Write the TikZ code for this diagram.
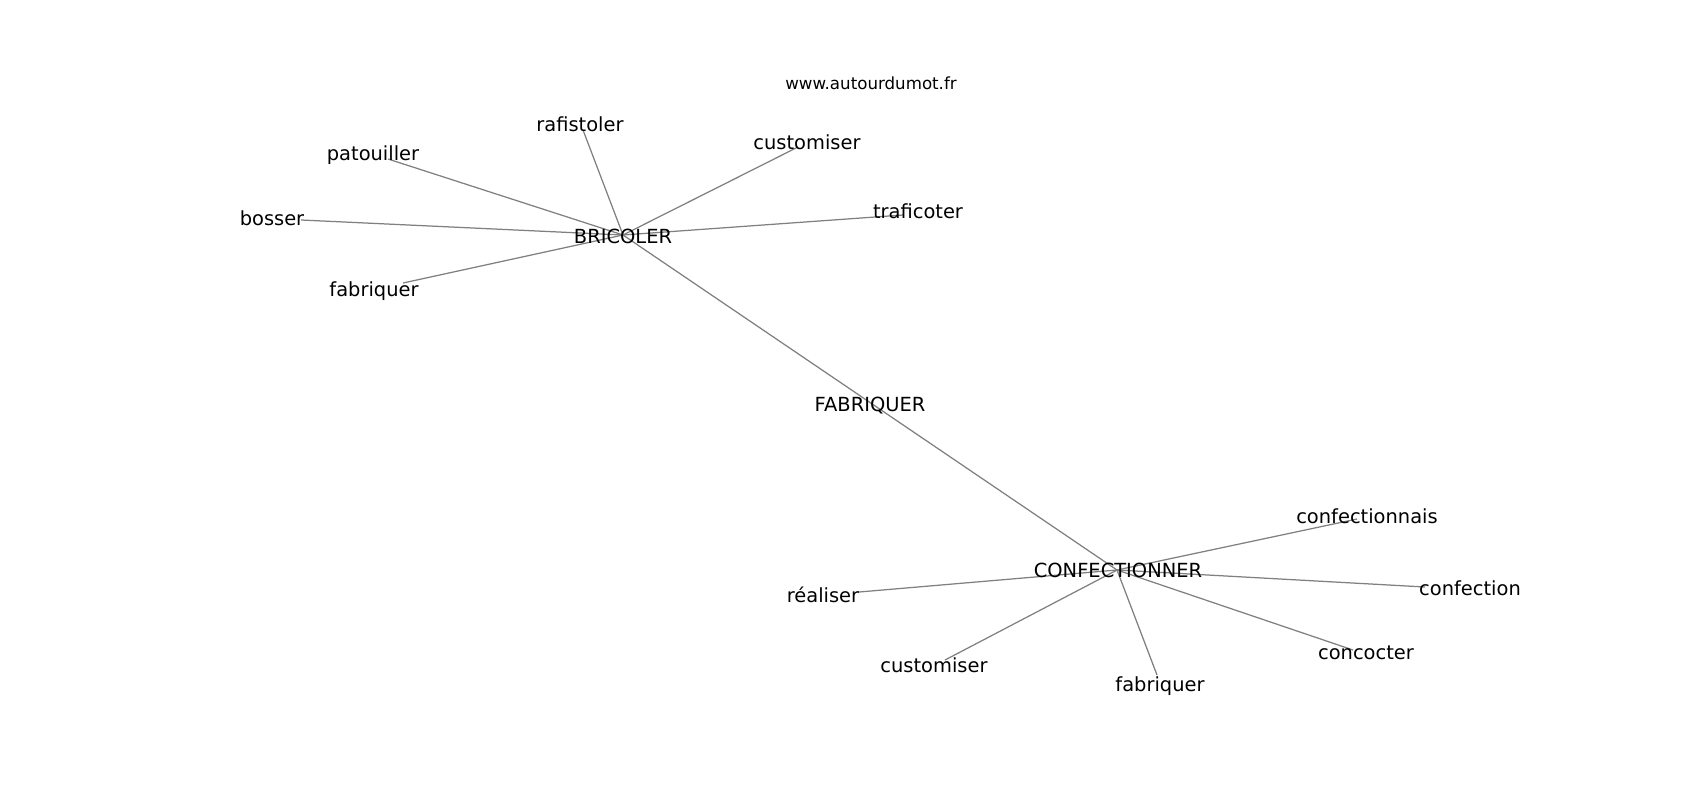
\documentclass[tikz,border=0pt]{standalone}
\usepackage{fontspec}
\setmainfont{DejaVu Sans}
\usetikzlibrary{positioning}
\definecolor{edgegray}{RGB}{128,128,128}

\begin{document}
\begin{tikzpicture}[x=0.72pt, y=-0.72pt]
\tikzstyle{word} = [anchor=base, inner sep=0pt, text=black,
    font=\fontsize{14}{16}\selectfont]
\tikzstyle{site} = [word, font=\fontsize{12}{14}\selectfont]
\tikzstyle{line} = [draw, edgegray, line width=0.9pt]
    \useasboundingbox (0,0) rectangle (1700,800);

    % Place vertices
    \coordinate (bricoler) at (623,235);
    \coordinate (confectionner) at (1117,570);
    \coordinate (rafistoler) at (583,130);
    \coordinate (patouiller) at (388,159);
    \coordinate (bosser) at (301,220);
    \coordinate (fabriquer1) at (403,283);
    \coordinate (customiser1) at (798,147);
    \coordinate (traficoter) at (903,215);
    \coordinate (realiser) at (859,592);
    \coordinate (customiser2) at (945,660);
    \coordinate (fabriquer2) at (1157,675);
    \coordinate (confectionnais) at (1357,519);
    \coordinate (confection) at (1425,587);
    \coordinate (concocter) at (1353,650);

%paths
    \path [line] (bricoler) -- (confectionner);
    \path [line] (bricoler) -- (rafistoler);
    \path [line] (bricoler) -- (patouiller);
    \path [line] (bricoler) -- (bosser);
    \path [line] (bricoler) -- (fabriquer1);
    \path [line] (bricoler) -- (customiser1);
    \path [line] (bricoler) -- (traficoter);
    \path [line] (confectionner) -- (realiser);
    \path [line] (confectionner) -- (customiser2);
    \path [line] (confectionner) -- (fabriquer2);
    \path [line] (confectionner) -- (confectionnais);
    \path [line] (confectionner) -- (confection);
    \path [line] (confectionner) -- (concocter);

    % Place labels
    \node [site] (site) at (871,89) {www.autourdumot.fr};
    \node [word] (fabriquer-title) at (870,411) {FABRIQUER};
    \node [word] (bricoler-label) at (623,243) {BRICOLER};
    \node [word] (confectionner-label) at (1118,577) {CONFECTIONNER};
    \node [word] (rafistoler-label) at (580,131) {rafistoler};
    \node [word] (patouiller-label) at (373,160) {patouiller};
    \node [word] (bosser-label) at (272,225) {bosser};
    \node [word] (fabriquer1-label) at (374,296) {fabriquer};
    \node [word] (customiser1-label) at (807,149) {customiser};
    \node [word] (traficoter-label) at (918,218) {traficoter};
    \node [word] (realiser-label) at (823,602) {réaliser};
    \node [word] (customiser2-label) at (934,672) {customiser};
    \node [word] (fabriquer2-label) at (1160,691) {fabriquer};
    \node [word] (confectionnais-label) at (1367,523) {confectionnais};
    \node [word] (confection-label) at (1470,595) {confection};
    \node [word] (concocter-label) at (1366,659) {concocter};

\end{tikzpicture}
\end{document}
